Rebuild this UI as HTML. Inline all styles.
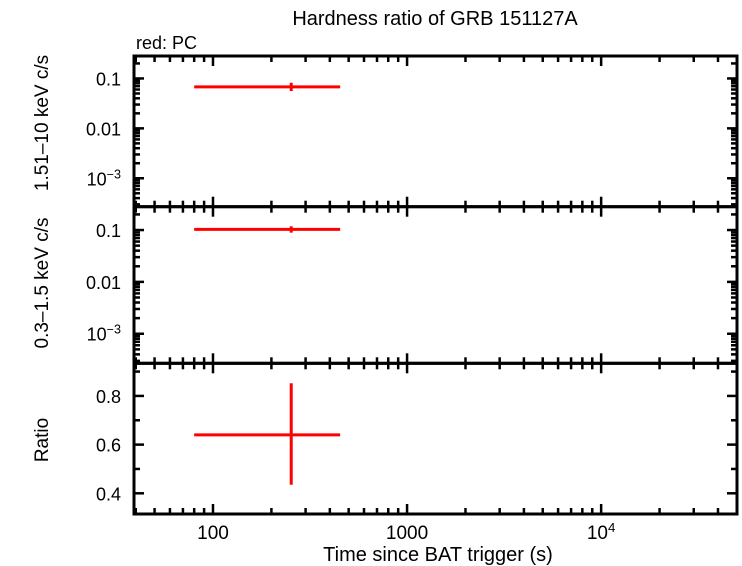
<!DOCTYPE html>
<html><head><meta charset="utf-8"><style>
body{margin:0;background:#fff}
svg{display:block;font-family:"Liberation Sans",sans-serif}
</style></head><body>
<svg id="c" width="742" height="566" xmlns="http://www.w3.org/2000/svg"></svg>
<script>
const xLow=[80], xHigh=[452], xMid=[253];
const hardVal=[0.068], hardLo=[0.056], hardHi=[0.082];
const softVal=[0.103], softLo=[0.089], softHi=[0.118];
const ratioVal=[0.64], ratioLo=[0.435], ratioHi=[0.852];
const xTickVals=[100,1000,10000];
const xTickLabels=["100","1000","10^4"];
const logTickVals=[0.1,0.01,0.001];
const logTickLabels=["0.1","0.01","10^−3"];
const ratioTickVals=[0.4,0.6,0.8];
const ratioTickLabels=["0.4","0.6","0.8"];

const svg=document.getElementById('c');
const NS='http://www.w3.org/2000/svg';
const L=134,R=737;
const xmin=1.593,xmax=4.70;
const X=v=>L+(Math.log10(v)-xmin)/(xmax-xmin)*(R-L);
const panels=[{t:56,b:206.7,min:-3.57,max:-0.55,log:true},{t:206.7,b:363.3,min:-3.57,max:-0.55,log:true},{t:363.3,b:514,min:0.315,max:0.934,log:false}];
function Y(p,v){const u=p.log?Math.log10(v):v;return p.b-(u-p.min)/(p.max-p.min)*(p.b-p.t);}
function el(tag,attrs,parent){const e=document.createElementNS(NS,tag);for(const k in attrs)e.setAttribute(k,attrs[k]);(parent||svg).appendChild(e);return e;}
function line(x1,y1,x2,y2,c,w,name){const e=el('line',{x1,y1,x2,y2,stroke:c,'stroke-width':w});

return e;}
function text(x,y,s,anchor,size,name,sup){const e=el('text',{x,y,'text-anchor':anchor,'font-size':size,fill:'#000'});


if(sup){const parts=s.split('^');e.appendChild(document.createTextNode(parts[0]));const t=el('tspan',{dy:-7,'font-size':size*0.7},e);t.textContent=parts[1];}else e.textContent=s;return e;}

panels.forEach((p,i)=>{
  for(let d=1;d<=4;d++)for(let m=1;m<10;m++){const v=m*Math.pow(10,d);const lv=Math.log10(v);if(lv<xmin||lv>xmax)continue;
    const x=X(v),len=m==1?10:6;
    line(x,p.t,x,p.t+len,'#000',2.5,'x-tick');line(x,p.b,x,p.b-len,'#000',2.5,'x-tick');}
  if(p.log){for(let d=-4;d<=0;d++)for(let m=1;m<10;m++){const v=m*Math.pow(10,d);const lv=Math.log10(v);if(lv<p.min||lv>p.max)continue;
    const y=Y(p,v),len=m==1?10:6;line(L,y,L+len,y,'#000',2.5,'y-tick');line(R,y,R-len,y,'#000',2.5,'y-tick');}}
  else{for(let v=0.4;v<=0.91;v+=0.1){const y=Y(p,v);const len=Math.abs(v*10-Math.round(v*5)*2)<0.01?10:6;line(L,y,L+len,y,'#000',2.5,'y-tick');line(R,y,R-len,y,'#000',2.5,'y-tick');}}
  const r=el('rect',{x:L,y:p.t,width:R-L,height:p.b-p.t,fill:'none',stroke:'#000','stroke-width':3});
  
  
});
[0,1].forEach(i=>logTickVals.forEach((v,k)=>text(L-13,Y(panels[i],v)+7,logTickLabels[k],'end',18,'y-tick-label',logTickLabels[k].includes('^'))));
ratioTickVals.forEach((v,k)=>text(L-13,Y(panels[2],v)+7,ratioTickLabels[k],'end',18,'y-tick-label'));
xTickVals.forEach((v,k)=>text(X(v),539,xTickLabels[k],'middle',19,'x-tick-label',xTickLabels[k].includes('^')));

const series=[[hardVal,hardLo,hardHi],[softVal,softLo,softHi],[ratioVal,ratioLo,ratioHi]];
series.forEach((s,i)=>{const p=panels[i];for(let j=0;j<xMid.length;j++){
  line(X(xLow[j]),Y(p,s[0][j]),X(xHigh[j]),Y(p,s[0][j]),'#f00',3,'data-xerr');
  line(X(xMid[j]),Y(p,s[1][j]),X(xMid[j]),Y(p,s[2][j]),'#f00',3,'data-yerr');}});

text(435,25,'Hardness ratio of GRB 151127A','middle',20,'chart-title');
text(136,49,'red: PC','start',18,'legend-label');
text(438,561,'Time since BAT trigger (s)','middle',20,'x-axis-title');
const yt=[['1.51\u201310 keV c/s',123],['0.3\u20131.5 keV c/s',283],['Ratio',440]];
yt.forEach(([s,y])=>{const e=text(0,0,s,'middle',19,'y-axis-title');e.setAttribute('transform',`translate(48,${y}) rotate(-90)`);});
</script>
</body></html>
